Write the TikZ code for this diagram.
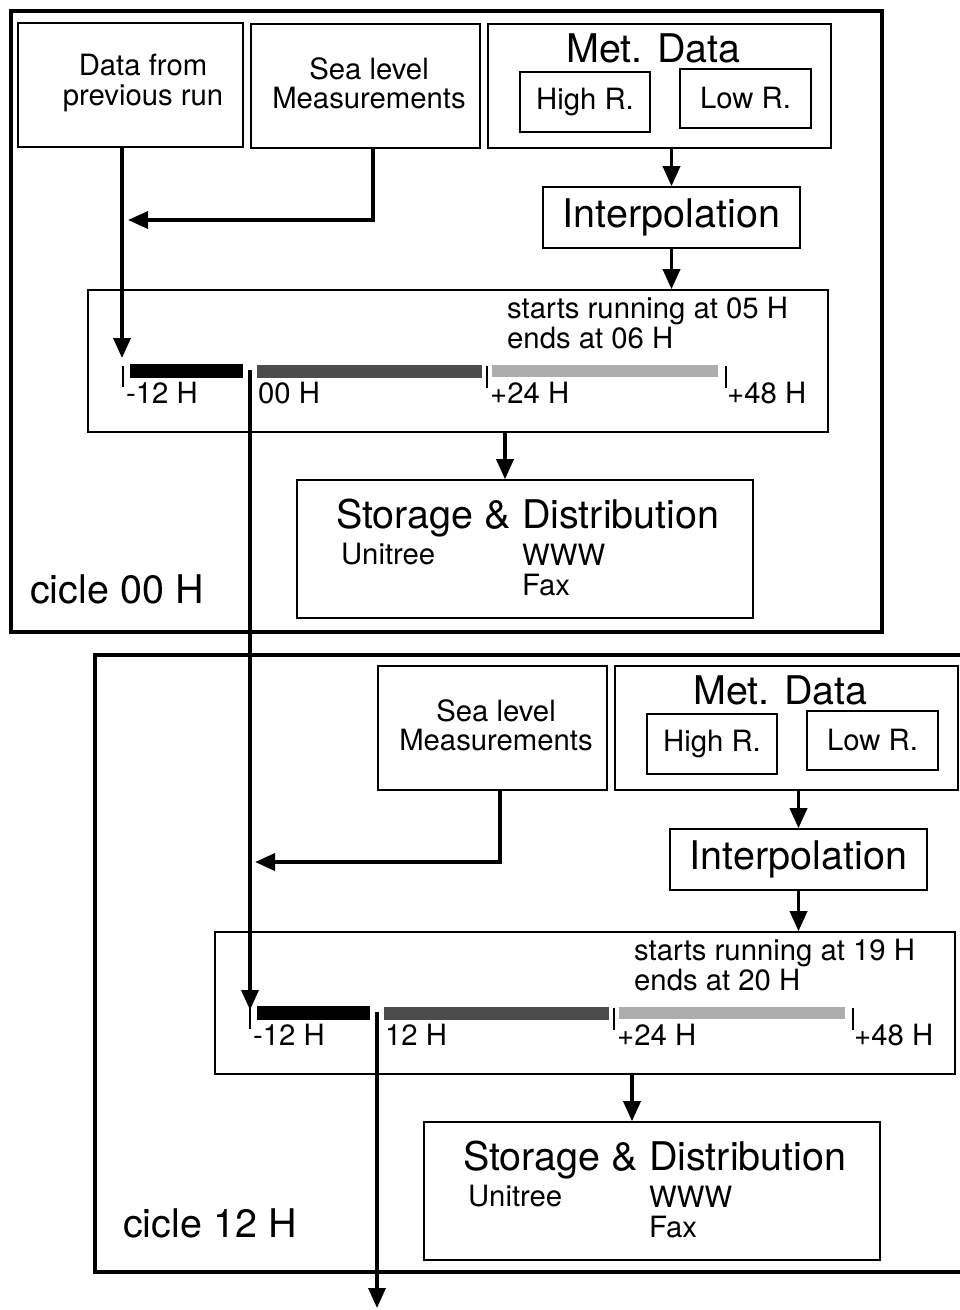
\documentclass[tikz,border=0pt]{standalone}
\usepackage{fontspec}
\setmainfont{TeX Gyre Heros}
\usetikzlibrary{arrows.meta}

\begin{document}
\begin{tikzpicture}[x=1pt,y=-1pt,
    frame/.style={line width=3.8pt},
    box/.style={draw,line width=1.6pt,inner sep=0pt},
    arr/.style={line width=3.5pt,-{Triangle[length=20pt,width=17pt]}},
    tick/.style={line width=1.2pt},
    big/.style={inner sep=0pt,font=\fontsize{39.5}{44}\selectfont},
    small/.style={inner sep=0pt,font=\fontsize{29.3}{29.5}\selectfont}]
  \useasboundingbox (0,0) rectangle (960,1310);

  % cicle 00 H
  \draw[frame] (11,11) rectangle (882,632);
  \node[big,anchor=base west] (cyclea) at (30,603) {cicle 00 H};
  \node[box,minimum width=225,minimum height=124] (dataa) at (130.5,85) {};
  \node[small,align=center] (datatxta) at (143,83) {Data from\\previous run};
  \node[box,minimum width=229,minimum height=124] (seaa) at (365.5,86) {};
  \node[small,align=center] (seatxta) at (369,83.5) {Sea level\\Measurements};
  \node[box,minimum width=343,minimum height=124] (meta) at (659.5,86) {};
  \node[big,anchor=base west] (mettxta) at (566,62) {Met. Data};
  \node[box,small,minimum width=130,minimum height=60] (higha) at (585,102) {High R.};
  \node[box,small,minimum width=131,minimum height=59] (lowa) at (745.5,98.5) {Low R.};
  \node[box,big,minimum width=257,minimum height=61] (interpa) at (671.5,217.5) {Interpolation};
  \node[box,minimum width=740,minimum height=142] (modela) at (458,361) {};
  \node[small,anchor=base west] (starta) at (507,318) {starts running at 05 H};
  \node[small,anchor=base west] (enda) at (507,348) {ends at 06 H};
  \fill (130,364) rectangle (243,378);
  \fill[black!70] (257,365) rectangle (482,378);
  \fill[black!32] (492,365) rectangle (718,377);
  \draw[tick] (123,366) -- (123,387);
  \draw[tick] (487,366) -- (487,388);
  \draw[tick] (726,366) -- (726,388);
  \node[small,anchor=base west] (m12a) at (126,403) {-12 H};
  \node[small,anchor=base west] (h00a) at (258,403) {00 H};
  \node[small,anchor=base west] (p24a) at (490,403) {+24 H};
  \node[small,anchor=base west] (p48a) at (727,403) {+48 H};
  \node[box,minimum width=456,minimum height=138] (storea) at (525,549) {};
  \node[big,anchor=base west] (storetxta) at (336,528) {Storage \& Distribution};
  \node[small,anchor=base west] (unia) at (341,564) {Unitree};
  \node[small,anchor=base west] (wwwa) at (522,565) {WWW};
  \node[small,anchor=base west] (faxa) at (522,595) {Fax};
  \coordinate (ina) at (122,358);
  \coordinate (joina) at (128,220);
  \coordinate (seaouta) at (373,148);
  \coordinate (outa) at (505,432);
  \coordinate (t0a) at (250,370);
  \draw[arr] (dataa.south -| ina) -- (ina);
  \draw[arr] (seaouta) |- (joina);
  \draw[arr] (meta.south -| interpa.north) -- (interpa.north);
  \draw[arr] (interpa.south) -- (interpa.south |- modela.north);
  \draw[arr] (outa) -- (outa |- storea.north);

  % cicle 12 H
  \draw[frame] (960,655) -- (95,655) -- (95,1272) -- (960,1272);
  \node[big,anchor=base west] (cycleb) at (123,1237) {cicle 12 H};
  \begin{scope}[shift={(127,642)}]
    \node[box,minimum width=229,minimum height=124] (seab) at (365.5,86) {};
    \node[small,align=center] (seatxtb) at (369,83.5) {Sea level\\Measurements};
    \node[box,minimum width=343,minimum height=124] (metb) at (659.5,86) {};
    \node[big,anchor=base west] (mettxtb) at (566,62) {Met. Data};
    \node[box,small,minimum width=130,minimum height=60] (highb) at (585,102) {High R.};
    \node[box,small,minimum width=131,minimum height=59] (lowb) at (745.5,98.5) {Low R.};
    \node[box,big,minimum width=257,minimum height=61] (interpb) at (671.5,217.5) {Interpolation};
    \node[box,minimum width=740,minimum height=142] (modelb) at (458,361) {};
    \node[small,anchor=base west] (startb) at (507,318) {starts running at 19 H};
    \node[small,anchor=base west] (endb) at (507,348) {ends at 20 H};
    \fill (130,364) rectangle (243,378);
    \fill[black!70] (257,365) rectangle (482,378);
    \fill[black!32] (492,365) rectangle (718,377);
    \draw[tick] (123,366) -- (123,387);
    \draw[tick] (487,366) -- (487,388);
    \draw[tick] (726,366) -- (726,388);
    \node[small,anchor=base west] (m12b) at (126,403) {-12 H};
    \node[small,anchor=base west] (h12b) at (258,403) {12 H};
    \node[small,anchor=base west] (p24b) at (490,403) {+24 H};
    \node[small,anchor=base west] (p48b) at (727,403) {+48 H};
    \node[box,minimum width=456,minimum height=138] (storeb) at (525,549) {};
    \node[big,anchor=base west] (storetxtb) at (336,528) {Storage \& Distribution};
    \node[small,anchor=base west] (unib) at (341,564) {Unitree};
    \node[small,anchor=base west] (wwwb) at (522,565) {WWW};
    \node[small,anchor=base west] (faxb) at (522,595) {Fax};
    \coordinate (joinb) at (128,220);
    \coordinate (seaoutb) at (373,148);
    \coordinate (outb) at (505,432);
    \coordinate (tickb) at (123,368);
    \coordinate (t0b) at (250,370);
    \coordinate (exitb) at (250,666);
    \draw[arr] (seaoutb) |- (joinb);
    \draw[arr] (metb.south -| interpb.north) -- (interpb.north);
    \draw[arr] (interpb.south) -- (interpb.south |- modelb.north);
    \draw[arr] (outb) -- (outb |- storeb.north);
  \end{scope}

  % run to run
  \draw[arr] (t0a) -- (tickb);
  \draw[arr] (t0b) -- (exitb);
\end{tikzpicture}
\end{document}
